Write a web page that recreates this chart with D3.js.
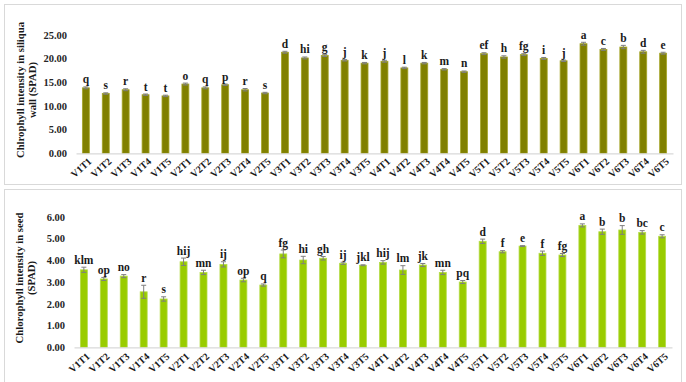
<!DOCTYPE html>
<html><head><meta charset="utf-8">
<script src="https://cdn.jsdelivr.net/npm/d3@7"></script>
<style>html,body{margin:0;padding:0;background:#fff;}svg{display:block;}</style>
</head><body>
<svg id="c" width="686" height="382"></svg>
<script>
const categories = ["V1T1","V1T2","V1T3","V1T4","V1T5","V2T1","V2T2","V2T3","V2T4","V2T5",
"V3T1","V3T2","V3T3","V3T4","V3T5","V4T1","V4T2","V4T3","V4T4","V4T5",
"V5T1","V5T2","V5T3","V5T4","V5T5","V6T1","V6T2","V6T3","V6T4","V6T5"];
const siliquaValues = [13.8,12.6,13.4,12.35,12.1,14.6,13.8,14.45,13.4,12.7,
21.3,20.1,20.6,19.6,19.0,19.4,18.0,19.0,17.7,17.2,
21.0,20.3,20.8,20.0,19.5,23.1,21.9,22.4,21.4,21.1];
const siliquaErrors = [0.2,0.15,0.2,0.15,0.15,0.2,0.2,0.15,0.25,0.15,
0.2,0.2,0.2,0.15,0.15,0.2,0.15,0.15,0.15,0.15,
0.2,0.25,0.2,0.2,0.15,0.3,0.2,0.35,0.3,0.2];
const siliquaLetters = ["q","s","r","t","t","o","q","p","r","s","d","hi","g","j","k","j","l","k","m","n","ef","h","fg","i","j","a","c","b","d","e"];
const seedValues = [3.56,3.14,3.27,2.55,2.22,3.93,3.44,3.81,3.09,2.86,
4.29,4.01,4.09,3.86,3.77,3.90,3.55,3.78,3.44,3.00,
4.87,4.39,4.65,4.32,4.24,5.60,5.31,5.39,5.28,5.10];
const seedErrors = [0.12,0.07,0.07,0.3,0.1,0.17,0.1,0.12,0.08,0.05,
0.18,0.17,0.08,0.05,0.02,0.08,0.2,0.07,0.1,0.07,
0.1,0.05,0.02,0.1,0.07,0.07,0.12,0.2,0.08,0.07];
const seedLetters = ["klm","op","no","r","s","hij","mn","ij","op","q","fg","hi","gh","ij","jkl","hij","lm","jk","mn","pq","d","f","e","f","fg","a","b","b","bc","c"];
const siliquaTicks = [0,5,10,15,20,25];
const seedTicks = [0,1,2,3,4,5,6];

const svg = d3.select("#c");
const FONT = "'Liberation Serif','Times New Roman',serif";

function panel(o){
  const g = svg.append("g");
  g.append("rect").attr("x",o.box[0]+0.5).attr("y",o.box[1]+0.5).attr("width",o.box[2]).attr("height",o.box[3])
    .attr("fill","#fff").attr("stroke","#d9d9d9").attr("stroke-width",1);
  const x = d3.scaleBand().domain(categories).range([o.x0,o.x1]).paddingInner(0.65).paddingOuter(0.32);
  const y = d3.scaleLinear().domain(o.domain).range([o.y0,o.y1]);
  // y axis
  const ya = g.append("g").attr("transform",`translate(${o.x0},0)`)
    .call(d3.axisLeft(y).tickValues(o.ticks).tickFormat(d3.format(".2f")).tickSize(0).tickPadding(9));
  ya.select(".domain").remove();
  ya.selectAll("text").attr("font-family",FONT).attr("font-weight","bold").attr("font-size","10.5px").attr("fill","#262626");
  // bars
  g.selectAll("rect.bar").data(categories).join("rect").attr("class","bar")
    .attr("x",d=>x(d)).attr("width",x.bandwidth())
    .attr("y",(d,i)=>y(o.values[i])).attr("height",(d,i)=>y(0)-y(o.values[i]))
    .attr("fill",o.fill).attr("stroke",o.edge).attr("stroke-width",0.8);
  // error bars
  const eg = g.append("g").attr("stroke","#7f7f7f").attr("stroke-width",1);
  categories.forEach((d,i)=>{
    const cx = x(d)+x.bandwidth()/2, v=o.values[i], e=o.errors[i];
    eg.append("line").attr("x1",cx).attr("x2",cx).attr("y1",y(v-e)).attr("y2",y(v+e));
    eg.append("line").attr("x1",cx-2.5).attr("x2",cx+2.5).attr("y1",y(v+e)).attr("y2",y(v+e));
    eg.append("line").attr("x1",cx-2.5).attr("x2",cx+2.5).attr("y1",y(v-e)).attr("y2",y(v-e));
  });
  // letters
  g.selectAll("text.lt").data(categories).join("text").attr("class","lt")
    .attr("x",d=>x(d)+x.bandwidth()/2).attr("y",(d,i)=>y(o.values[i]+o.errors[i])-3.5)
    .attr("text-anchor","middle").attr("font-family",FONT).attr("font-weight","bold").attr("font-size","11.5px").attr("fill","#1a1a1a")
    .text((d,i)=>o.letters[i]);
  // x axis
  const xa = g.append("g").attr("transform",`translate(0,${o.y0})`).call(d3.axisBottom(x).tickSize(0).tickPadding(0));
  xa.select(".domain").attr("stroke","#d9d9d9").attr("stroke-width",1.2);
  xa.selectAll("text").attr("font-family",FONT).attr("font-weight","bold").attr("font-size","10px").attr("fill","#1a1a1a")
    .attr("text-anchor","end").attr("dy","0")
    .attr("transform",d=>`translate(${x.bandwidth()/2+3},${o.lblOff}) rotate(-42)`).attr("y",0).attr("x",0);
  // y title
  const tx = o.titleX, ty = o.titleY;
  const t = g.append("text").attr("transform",`translate(${tx},${ty}) rotate(-90)`)
    .attr("text-anchor","middle").attr("font-family",FONT).attr("font-weight","bold").attr("font-size","10.7px").attr("fill","#1a1a1a");
  t.append("tspan").attr("x",0).attr("dy",0).text(o.title[0]);
  t.append("tspan").attr("x",0).attr("dy","1.15em").text(o.title[1]);
}

panel({box:[4,4,677,180], x0:76, x1:673, y0:153.3, y1:34.7, domain:[0,25], ticks:siliquaTicks,
  values:siliquaValues, errors:siliquaErrors, letters:siliquaLetters,
  fill:"#808000", edge:"#a6a62a", lblOff:9,
  title:["Chlrophyll intensity in siliqua","wall (SPAD)"], titleX:24, titleY:90});
panel({box:[4,189,677,194], x0:74, x1:672, y0:347.3, y1:216.7, domain:[0,6], ticks:seedTicks,
  values:seedValues, errors:seedErrors, letters:seedLetters,
  fill:"#99cc00", edge:"#b5dc4a", lblOff:10,
  title:["Chlorophyll intensity in seed","(SPAD)"], titleX:23, titleY:278});
</script>
</body></html>
